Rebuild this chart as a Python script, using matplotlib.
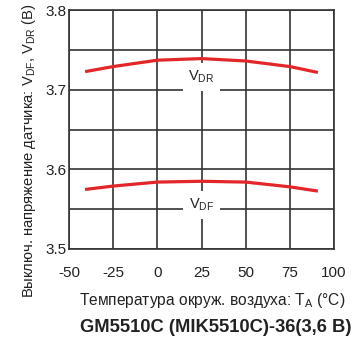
import matplotlib
matplotlib.use("Agg")
import matplotlib.pyplot as plt

plt.rcParams['font.family'] = ['Liberation Sans', 'DejaVu Sans']
plt.rcParams['mathtext.fontset'] = 'custom'
plt.rcParams['mathtext.rm'] = 'Liberation Sans'
plt.rcParams['mathtext.it'] = 'Liberation Sans'
plt.rcParams['axes.unicode_minus'] = False

# data
temps = [-40, -25, 0, 25, 50, 75, 90]
v_dr = [3.723, 3.729, 3.737, 3.739, 3.736, 3.729, 3.722]
v_df = [3.575, 3.579, 3.584, 3.585, 3.584, 3.578, 3.573]

xticks = [-50, -25, 0, 25, 50, 75, 100]
yticks = [3.5, 3.6, 3.7, 3.8]
ygrid = [3.55, 3.65, 3.75]

fig = plt.figure(figsize=(3.6, 3.41), dpi=100)
ax = fig.add_axes([69/360, 1-249/341, (334-69)/360, (249-10)/341])

grid_col = '#333333'
txt_col = '#222222'
ax.set_xlim(-50, 100)
ax.set_ylim(3.5, 3.8)
ax.set_xticks(xticks)
ax.set_yticks(yticks)
ax.set_yticks(ygrid, minor=True)
ax.grid(True, which='both', color=grid_col, lw=1.2, zorder=1)
ax.set_axisbelow(True)
for s in ax.spines.values():
    s.set_color(grid_col)
    s.set_linewidth(1.2)
ax.tick_params(which='both', length=0, labelsize=11, colors=txt_col)
ax.tick_params(axis='x', pad=12)
ax.tick_params(axis='y', pad=2)

ax.plot(temps, v_dr, color='#e2262a', lw=2.3, zorder=4)
ax.plot(temps, v_df, color='#e2262a', lw=2.3, zorder=4)

ax.text(25, 3.716, 'V$_{\\rm DR}$', ha='center', va='center', fontsize=10.5, color=txt_col,
        zorder=3, bbox=dict(boxstyle='square,pad=0.4', fc='white', ec='none'))
ax.text(25, 3.555, 'V$_{\\rm DF}$', ha='center', va='center', fontsize=10.5, color=txt_col,
        zorder=3, bbox=dict(boxstyle='square,pad=0.4', fc='white', ec='none'))

fig.text(29/360, 1-151/341, 'Выключ. напряжение датчика: V$_{\\rm DF}$, V$_{\\rm DR}$ (В)',
         rotation=90, ha='center', va='center', fontsize=10.6, color=txt_col)
fig.text(345/360, 1-300/341, 'Температура окруж. воздуха: T$_{\\rm A}$ (°C)', ha='right',
         va='center', fontsize=11.2, color=txt_col)
fig.text(352/360, 1-327/341, 'GM5510C (MIK5510C)-36(3,6 В)', ha='right', va='center',
         fontsize=13.2, fontweight='bold', color=txt_col)

fig.savefig('out.png', dpi=100)
